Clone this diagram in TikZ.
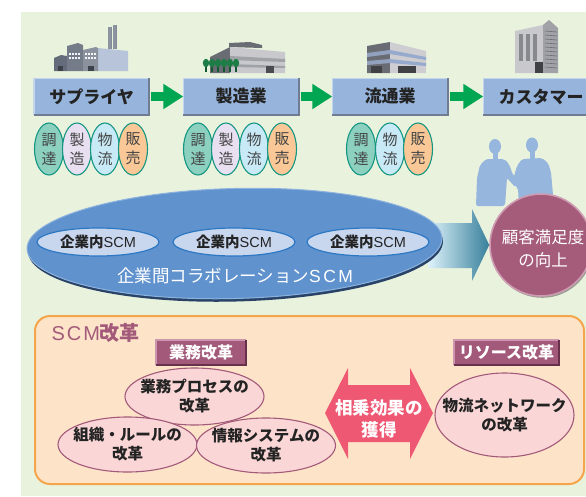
\documentclass[tikz,border=0pt]{standalone}
\usepackage{fontspec}
\setmainfont{Noto Sans CJK JP}
\newfontfamily\lat{Liberation Sans}
\usetikzlibrary{shapes.geometric,arrows.meta,calc,shadows}

\definecolor{bggreen}{RGB}{233,242,221}
\definecolor{boxblue}{RGB}{150,180,220}
\definecolor{bevlight}{RGB}{196,214,238}
\definecolor{bevdark}{RGB}{112,124,146}
\definecolor{flowgreen}{RGB}{0,166,81}
\definecolor{tealedge}{RGB}{20,150,130}
\definecolor{cteal}{RGB}{140,208,192}
\definecolor{clav}{RGB}{232,224,240}
\definecolor{csky}{RGB}{200,233,246}
\definecolor{corange}{RGB}{250,200,150}
\definecolor{scmblue}{RGB}{96,146,206}
\definecolor{scmrim}{RGB}{140,178,222}
\definecolor{scmshadow}{RGB}{40,66,104}
\definecolor{innerfill}{RGB}{200,214,238}
\definecolor{inneredge}{RGB}{45,120,195}
\definecolor{mauve}{RGB}{163,90,122}
\definecolor{mauvelight}{RGB}{205,150,175}
\definecolor{mauvedark}{RGB}{105,48,75}
\definecolor{peach}{RGB}{253,228,201}
\definecolor{peachedge}{RGB}{245,165,75}
\definecolor{pinkfill}{RGB}{250,214,214}
\definecolor{synergy}{RGB}{238,88,115}
\definecolor{people}{RGB}{150,182,222}
\definecolor{textdark}{RGB}{35,35,35}
\definecolor{arrowlight}{RGB}{222,242,250}
\definecolor{arrowmid}{RGB}{120,180,205}
\definecolor{arrowdark}{RGB}{55,128,155}
\definecolor{circfill}{RGB}{165,92,122}
\definecolor{circedge}{RGB}{205,155,178}
\definecolor{bldgdark}{RGB}{100,108,124}
\definecolor{bldgmid}{RGB}{140,148,162}
\definecolor{bldglight}{RGB}{184,196,218}
\definecolor{graylight}{RGB}{200,200,205}
\definecolor{graymid}{RGB}{160,162,168}
\definecolor{graydark}{RGB}{105,108,115}
\definecolor{stripe}{RGB}{150,170,205}
\definecolor{treegreen}{RGB}{30,125,70}

\tikzset{
  stage/.style={rectangle, fill=boxblue, minimum width=115pt, minimum height=36pt,
    inner sep=0pt, text=textdark, font=\bfseries\fontsize{17}{19}\selectfont},
  bevhi/.style={draw=bevlight, line width=1.6pt},
  bevlo/.style={draw=bevdark, line width=1.6pt},
  flow/.style={draw=flowgreen, line width=9pt, -{Triangle[length=20pt,width=24pt]}, shorten <=2pt},
  pill/.style={ellipse, draw=tealedge, line width=1.1pt, minimum width=29pt, minimum height=52pt,
    inner sep=0pt, align=center, text=textdark!85, font=\fontsize{15}{19}\selectfont},
  inscm/.style={ellipse, fill=innerfill, draw=inneredge, line width=1.2pt, minimum width=122pt,
    minimum height=28pt, inner sep=0pt, text=textdark, font=\fontsize{14.5}{16}\selectfont},
  tag/.style={rectangle, fill=mauve, minimum height=25pt, inner sep=0pt, text=white,
    font=\bfseries\fontsize{16}{17}\selectfont},
  taghi/.style={draw=mauvelight, line width=1.4pt},
  taglo/.style={draw=mauvedark, line width=1.6pt},
  reform/.style={ellipse, fill=pinkfill, draw=mauve, line width=1.1pt, inner sep=0pt,
    minimum width=139pt},
  reformtxt/.style={align=center, text=textdark, font=\bfseries\fontsize{15.5}{19}\selectfont},
}

\begin{document}
\begin{tikzpicture}[x=1pt,y=-1pt]
\useasboundingbox (0,0) rectangle (586,496);
\fill[bggreen] (21,12) rectangle (586,496);

% ---------- factory ----------
\fill[bldgmid] (108,27) rectangle (111,49);
\fill[bldgdark!80] (111,27) rectangle (112,49);
\fill[bldgmid] (113,25) rectangle (116,49);
\fill[bldgdark!80] (116,25) rectangle (117,49);
\fill[bldgdark] (54,58) -- (61,55) -- (67,56) -- (67,71) -- (54,71) -- cycle;
\fill[bldgdark!90] (67,46) -- (78,43) -- (83,45) -- (83,71) -- (67,71) -- cycle;
\fill[bldglight] (98,48) -- (128,51) -- (128,71) -- (98,71) -- cycle;
\fill[bldgdark!75] (83,50) -- (96,47) -- (98,48) -- (98,71) -- (83,71) -- cycle;
\foreach \wy in {53,57} {
  \foreach \wx in {69,72,...,80} \fill[white!85!bldglight] (\wx,\wy) rectangle ++(2,2);
  \foreach \wx in {85,88,...,96} \fill[white!85!bldglight] (\wx,\wy) rectangle ++(2,2);
}
\fill[bldgdark!60!black] (88,66) rectangle (94,71);
\fill[bldgdark!60!black] (58,66) rectangle (63,71);

% ---------- manufacturing plant ----------
\fill[graydark] (229,43) -- (250,42) -- (262,45) -- (262,48) -- (229,47) -- cycle;
\fill[graydark] (210,57) -- (230,47) -- (230,73) -- (210,73) -- cycle;
\fill[graylight] (230,47) -- (285,52) -- (285,73) -- (230,73) -- cycle;
\fill[graymid] (230,56) -- (285,59) -- (285,62) -- (230,60) -- cycle;
\fill[graymid] (230,64) -- (285,66) -- (285,68) -- (230,67) -- cycle;
\fill[graydark!70!black] (266,66) rectangle (274,73);
\foreach \tx in {206,212,218,224,230,236} {
  \fill[treegreen!70!black] (\tx-0.6,64) rectangle (\tx+0.6,72);
  \fill[treegreen] (\tx,63) ellipse [x radius=3.2, y radius=4.2];
}

% ---------- distribution centre ----------
\fill[graydark] (367,46) -- (390,42) -- (390,73) -- (367,73) -- cycle;
\fill[stripe!80!gray] (367,53) -- (390,50) -- (390,54) -- (367,57) -- cycle;
\fill[stripe!80!gray] (367,61) -- (390,59) -- (390,63) -- (367,65) -- cycle;
\fill[graylight!90!white] (390,42) -- (426,51) -- (426,73) -- (390,73) -- cycle;
\fill[stripe] (390,50) -- (426,57) -- (426,60) -- (390,54) -- cycle;
\fill[stripe] (390,59) -- (426,63) -- (426,66) -- (390,63) -- cycle;
\fill[graydark!60!black] (371,66) rectangle (382,73);
\fill[graydark!60!black] (398,66) rectangle (416,73);

% ---------- office tower ----------
\fill[graylight] (515,31) -- (543,25) -- (543,73) -- (515,73) -- cycle;
\fill[graymid] (543,25) -- (549,20) -- (558,28) -- (558,73) -- (543,73) -- cycle;
\foreach \cx in {519,526,533} \fill[graydark!80] (\cx,34) rectangle ++(4,27);
\foreach \ry in {31,35,...,67} \draw[graydark, line width=0.6pt] (545,\ry) -- (557,\ry+1);
\fill[graydark!60!black] (535,62) rectangle (543,73);

% ---------- value chain stages ----------
\node[stage] (sup) at (91.5,96.5) {サプライヤ};
\node[stage] (mfg) at (241,96.5) {製造業};
\node[stage] (dist) at (390,96.5) {流通業};
\node[stage] (cust) at (541,96.5) {カスタマー};
\foreach \n in {sup,mfg,dist,cust} {
  \draw[bevhi] (\n.south west) -- (\n.north west) -- (\n.north east);
  \draw[bevlo] (\n.north east) -- (\n.south east) -- (\n.south west);
}
\draw[flow] (sup.east) -- (mfg.west);
\draw[flow] (mfg.east) -- (dist.west);
\draw[flow] (dist.east) -- (cust.west);

% ---------- functions of each stage ----------
\node[pill, fill=cteal]   (s1) at (49,149)  {調\\達};
\node[pill, fill=clav]    (s2) at (77,149)  {製\\造};
\node[pill, fill=csky]    (s3) at (105,149) {物\\流};
\node[pill, fill=corange] (s4) at (133,149) {販\\売};
\node[pill, fill=cteal]   (m1) at (198,149) {調\\達};
\node[pill, fill=clav]    (m2) at (226,149) {製\\造};
\node[pill, fill=csky]    (m3) at (254,149) {物\\流};
\node[pill, fill=corange] (m4) at (282,149) {販\\売};
\node[pill, fill=cteal]   (d1) at (361,149) {調\\達};
\node[pill, fill=csky]    (d2) at (390,149) {物\\流};
\node[pill, fill=corange] (d3) at (418,149) {販\\売};

% ---------- customers ----------
\fill[people, rounded corners=2pt] (476,206) -- (477,178) -- (480,165) -- (486,159) -- (504,159)
  -- (509,164) -- (513,175) -- (520,182) -- (515,187) -- (507,178) -- (505,206) -- cycle;
\fill[people] (495,146.5) ellipse [x radius=6, y radius=7.5];
\fill[people] (492.5,150) rectangle (497.5,160);
\fill[people, rounded corners=2pt] (519,206) -- (518,188) -- (512,183) -- (517,166) -- (522,159)
  -- (542,158) -- (548,163) -- (551,172) -- (554,206) -- cycle;
\fill[people] (532,145) ellipse [x radius=6, y radius=7.5];
\fill[people] (529.5,149) rectangle (534.5,159);

% ---------- customer satisfaction ----------
\node[circle, minimum size=102pt, inner sep=0pt, fill=circfill, draw=circedge, line width=1.6pt,
  drop shadow={shadow xshift=1.2pt, shadow yshift=-1.8pt, fill=black, opacity=0.35}] (cs) at (541,245) {};
\node[align=center, text=white, font=\fontsize{16.5}{23}\selectfont] (cstxt) at (543,249) {顧客満足度\\の向上};

\shade[left color=arrowlight, middle color=arrowmid, right color=arrowdark]
  (428,223) -- (472,223) -- (472,209) -- (cs.west) -- (472,281) -- (472,268) -- (428,268) -- cycle;

% ---------- SCM across companies ----------
\node[ellipse, minimum width=415pt, minimum height=110pt, inner sep=0pt, rotate=1.5,
  fill=scmblue, draw=scmrim, line width=1pt,
  drop shadow={shadow xshift=1pt, shadow yshift=-3pt, fill=scmshadow, opacity=1}] (inter) at (234.5,243.5) {};
\node[inscm] (in1) at (98,242) {\bfseries 企業内\lat\mdseries SCM};
\node[inscm] (in2) at (234,242) {\bfseries 企業内\lat\mdseries SCM};
\node[inscm] (in3) at (368,242) {\bfseries 企業内\lat\mdseries SCM};
\node[text=white, font=\fontsize{17.5}{19}\selectfont] (intertxt) at (235,276)
  {企業間コラボレーション{\lat\addfontfeature{LetterSpace=14}SCM}};

% ---------- SCM reform ----------
\draw[fill=peach, draw=peachedge, line width=2pt, rounded corners=15pt] (35,316) rectangle (584,484);
\node[anchor=west, text=mauve, font=\fontsize{20}{22}\selectfont] (title) at (48,333)
  {{\lat\addfontfeature{LetterSpace=10}SCM}\bfseries 改革};

\node[tag, minimum width=90pt] (bizt) at (201,352.5) {業務改革};
\node[tag, minimum width=105pt] (rest) at (506.5,352.5) {リソース改革};
\foreach \n in {bizt,rest} {
  \draw[taghi] (\n.south west) -- (\n.north west) -- (\n.north east);
  \draw[taglo] (\n.north east) -- (\n.south east) -- (\n.south west);
}

\node[reform, minimum height=57pt, label={[reformtxt]center:業務プロセスの\\改革}] (proc) at (194.5,396.5) {};
\node[reform, minimum height=55pt, label={[reformtxt]center:組織・ルールの\\改革}] (org) at (127.5,444.5) {};
\node[reform, minimum height=55pt, label={[reformtxt]center:情報システムの\\改革}] (info) at (266,445.5) {};
\node[reform, minimum height=84pt, label={[reformtxt]center:物流ネットワーク\\の改革}] (net) at (504.5,415) {};

% synergy double arrow
\fill[synergy] (325,413) -- (348,368) -- (348,385) -- (410,385) -- (410,368) -- (433,413)
  -- (410,459) -- (410,442) -- (348,442) -- (348,459) -- cycle;
\node[align=center, text=white, font=\bfseries\fontsize{17.5}{22}\selectfont] (syn) at (379,419) {相乗効果の\\獲得};
\end{tikzpicture}
\end{document}
